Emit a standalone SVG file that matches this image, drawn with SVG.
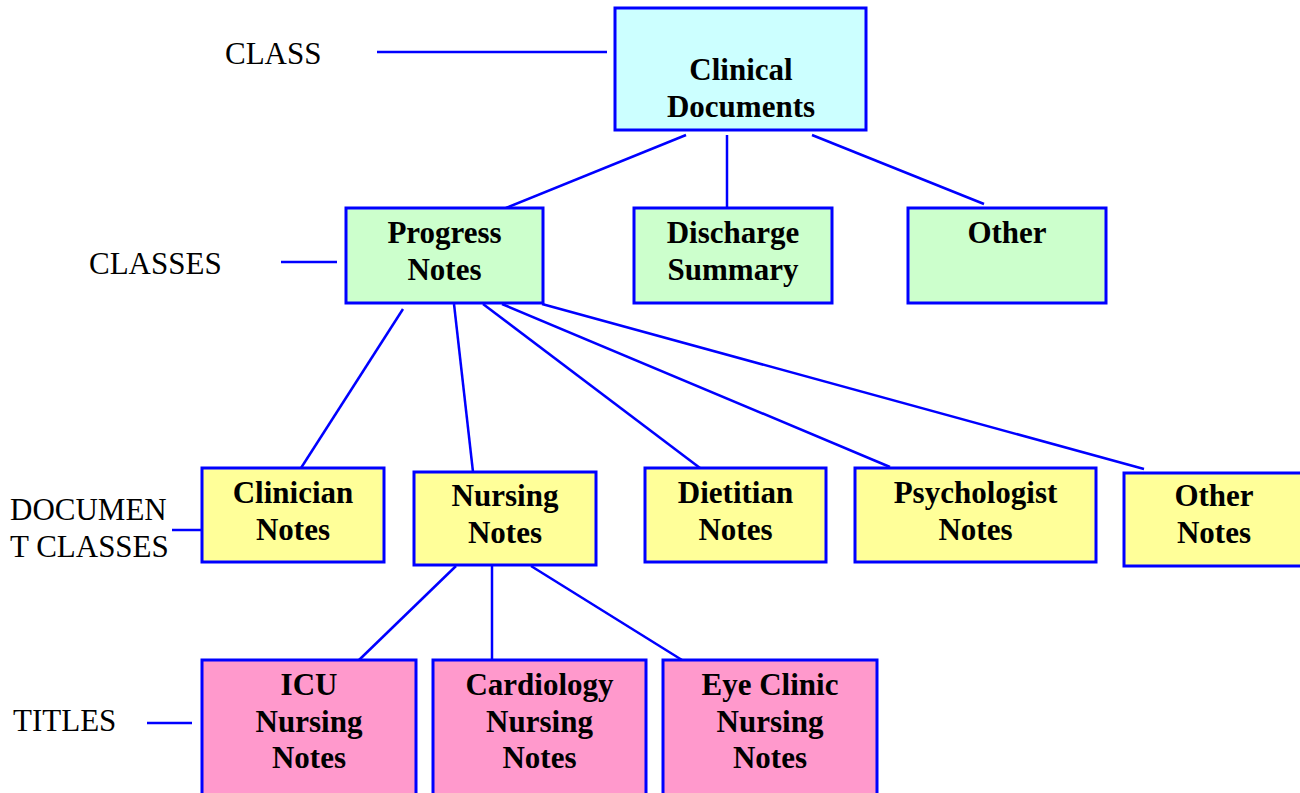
<svg xmlns="http://www.w3.org/2000/svg" width="1300" height="793" viewBox="0 0 1300 793">
<style>
.box{stroke:#0000FF;stroke-width:3}
.c1{fill:#CCFFFF}
.c2{fill:#CCFFCC}
.c3{fill:#FFFF99}
.c4{fill:#FF99CC}
.t{font-family:"Liberation Serif","Times New Roman",serif;font-weight:bold;font-size:31px;text-anchor:middle;fill:#000}
.lbl{font-family:"Liberation Serif","Times New Roman",serif;font-size:31px;fill:#000}
.conn line{stroke:#0000FF;stroke-width:2.5}
</style>
<rect width="1300" height="793" fill="#FFFFFF"/>
<g id="connectors" class="conn">
<line x1="377" y1="52" x2="607" y2="52"/>
<line x1="281" y1="262" x2="337" y2="262"/>
<line x1="172" y1="530" x2="202" y2="530"/>
<line x1="147" y1="723" x2="192" y2="723"/>
<line x1="686" y1="135" x2="506" y2="208"/>
<line x1="727" y1="135" x2="727" y2="208"/>
<line x1="812" y1="135" x2="984" y2="204"/>
<line x1="403" y1="309" x2="301" y2="468"/>
<line x1="454" y1="304" x2="473" y2="472"/>
<line x1="483" y1="304" x2="700" y2="468"/>
<line x1="502" y1="304" x2="890" y2="467"/>
<line x1="542" y1="304" x2="1144" y2="469"/>
<line x1="456" y1="566" x2="359" y2="660"/>
<line x1="492" y1="566" x2="492" y2="660"/>
<line x1="531" y1="566" x2="682" y2="660"/>
</g>
<g id="label-class"><text class="lbl" x="225" y="64">CLASS</text></g>
<g id="label-classes"><text class="lbl" x="89" y="274">CLASSES</text></g>
<g id="label-docclasses"><text class="lbl" x="10" y="520">DOCUMEN</text><text class="lbl" x="10" y="557">T CLASSES</text></g>
<g id="label-titles"><text class="lbl" x="13" y="731">TITLES</text></g>
<g id="clinical-documents"><rect class="box c1" x="615" y="8" width="251" height="122"/><text class="t" x="741" y="80">Clinical</text><text class="t" x="741" y="117">Documents</text></g>
<g id="progress-notes"><rect class="box c2" x="346" y="208" width="197" height="95"/><text class="t" x="444.5" y="243">Progress</text><text class="t" x="444.5" y="280">Notes</text></g>
<g id="discharge-summary"><rect class="box c2" x="634" y="208" width="198" height="95"/><text class="t" x="733" y="243">Discharge</text><text class="t" x="733" y="280">Summary</text></g>
<g id="other"><rect class="box c2" x="908" y="208" width="198" height="95"/><text class="t" x="1007" y="243">Other</text></g>
<g id="clinician-notes"><rect class="box c3" x="202" y="468" width="182" height="94"/><text class="t" x="293" y="503">Clinician</text><text class="t" x="293" y="540">Notes</text></g>
<g id="nursing-notes"><rect class="box c3" x="414" y="472" width="182" height="93"/><text class="t" x="505" y="506">Nursing</text><text class="t" x="505" y="543">Notes</text></g>
<g id="dietitian-notes"><rect class="box c3" x="645" y="468" width="181" height="94"/><text class="t" x="735.5" y="503">Dietitian</text><text class="t" x="735.5" y="540">Notes</text></g>
<g id="psychologist-notes"><rect class="box c3" x="855" y="468" width="241" height="94"/><text class="t" x="975.5" y="503">Psychologist</text><text class="t" x="975.5" y="540">Notes</text></g>
<g id="other-notes"><rect class="box c3" x="1124" y="473" width="180" height="93"/><text class="t" x="1214" y="506">Other</text><text class="t" x="1214" y="543">Notes</text></g>
<g id="icu-nursing-notes"><rect class="box c4" x="202" y="660" width="214" height="140"/><text class="t" x="309" y="695">ICU</text><text class="t" x="309" y="732">Nursing</text><text class="t" x="309" y="768">Notes</text></g>
<g id="cardiology-nursing-notes"><rect class="box c4" x="433" y="660" width="213" height="140"/><text class="t" x="539.5" y="695">Cardiology</text><text class="t" x="539.5" y="732">Nursing</text><text class="t" x="539.5" y="768">Notes</text></g>
<g id="eye-clinic-nursing-notes"><rect class="box c4" x="663" y="660" width="214" height="140"/><text class="t" x="770" y="695">Eye Clinic</text><text class="t" x="770" y="732">Nursing</text><text class="t" x="770" y="768">Notes</text></g>
</svg>
